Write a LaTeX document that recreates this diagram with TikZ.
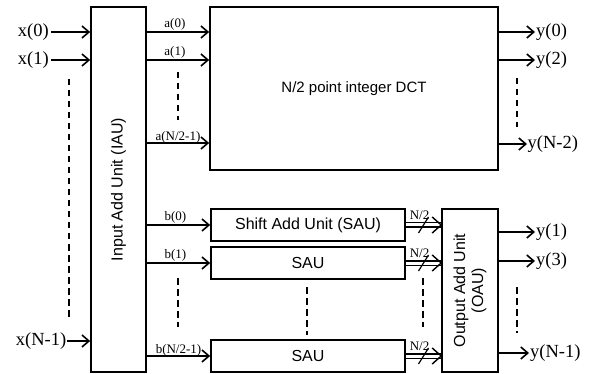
\documentclass[tikz,border=0pt]{standalone}
\usepackage{fontspec}
\setmainfont{Liberation Serif}
\setsansfont{Liberation Sans}
\usetikzlibrary{arrows.meta}
\begin{document}
\begin{tikzpicture}[x=1pt,y=-1pt,
  box/.style={draw,line width=1.6pt,inner sep=0pt},
  sans/.style={font=\sffamily\fontsize{16}{18}\selectfont,inner sep=0pt},
  arr/.style={line width=1.6pt,-{Straight Barb[length=7pt,width=12pt,line width=1.6pt]}},
  dbl/.style={double,double distance=3pt,line width=1.3pt},
  dblhead/.style={line width=1.4pt},
  big/.style={font=\fontsize{18.5}{20}\selectfont,inner sep=1pt},
  small/.style={font=\fontsize{13}{14}\selectfont,inner sep=1pt},
  dsh/.style={line width=1.5pt,dash pattern=on 6.5pt off 4.5pt},
  slash/.style={line width=1.2pt},
]
\useasboundingbox (0,0) rectangle (597,374);
% boxes
\node[box,minimum width=55pt,minimum height=365pt] (iau) at (118.5,189.5) {};
\node[sans,rotate=90] (iaut) at (iau.center) {Input Add Unit (IAU)};
\node[box,minimum width=288pt,minimum height=163pt] (dct) at (354,88.5) {};
\node[sans,font=\sffamily\fontsize{15}{17}\selectfont] (dctt) at (dct.center) {N/2 point integer DCT};
\node[box,sans,minimum width=194pt,minimum height=32pt] (s1) at (308,225) {Shift Add Unit (SAU)};
\node[box,sans,minimum width=194pt,minimum height=32pt] (s2) at (308,263) {SAU};
\node[box,sans,minimum width=194pt,minimum height=32pt] (s3) at (308,356) {SAU};
\node[box,minimum width=56pt,minimum height=163pt] (oau) at (470,290.5) {};
\node[sans,rotate=90,align=center] (oaut) at (oau.center) {Output Add Unit\\(OAU)};
% inputs
\node[big,anchor=east,inner sep=2pt] (x0) at (51,32) {x(0)};
\node[big,anchor=east,inner sep=2pt] (x1) at (51,60) {x(1)};
\node[big,anchor=east,inner sep=0.5pt] (xn) at (67,341) {x(N-1)};
\draw[arr] (x0.east) -- (x0.east -| iau.west);
\draw[arr] (x1.east) -- (x1.east -| iau.west);
\draw[arr] (xn.east) -- (xn.east -| iau.west);
% a lines
\coordinate (ra0) at (0,32);
\coordinate (ra1) at (0,60);
\coordinate (ran) at (0,143);
\draw[arr] (ra0 -| iau.east) -- (ra0 -| dct.west) node[small,pos=0.45,above] (la0) {a(0)};
\draw[arr] (ra1 -| iau.east) -- (ra1 -| dct.west) node[small,pos=0.45,above] (la1) {a(1)};
\draw[arr] (ran -| iau.east) -- (ran -| dct.west) node[small,pos=0.5,above=-2pt] (lan) {a(N/2-1)};
% b lines
\draw[arr] (s1.west -| iau.east) -- (s1.west) node[small,pos=0.45,above] (lb0) {b(0)};
\draw[arr] (s2.west -| iau.east) -- (s2.west) node[small,pos=0.45,above] (lb1) {b(1)};
\draw[arr] (s3.west -| iau.east) -- (s3.west) node[small,pos=0.5,above=-2pt] (lbn) {b(N/2-1)};
% double arrows
\coordinate (e1) at (s1.east -| oau.west);
\coordinate (e2) at (s2.east -| oau.west);
\coordinate (e3) at (s3.east -| oau.west);
\draw[dbl] (s1.east) -- (e1) coordinate[midway] (m1) node[small,midway,above=4pt,xshift=-4pt] (n1) {N/2};
\draw[dbl] (s2.east) -- (e2) coordinate[midway] (m2) node[small,midway,above=4pt,xshift=-4pt] (n2) {N/2};
\draw[dbl] (s3.east) -- (e3) coordinate[midway] (m3) node[small,midway,above=4pt,xshift=-4pt] (n3) {N/2};
\draw[dblhead] (e1) +(-9,-8) -- (e1) -- +(-9,8);
\draw[dblhead] (e2) +(-9,-8) -- (e2) -- +(-9,8);
\draw[dblhead] (e3) +(-9,-8) -- (e3) -- +(-9,8);
\draw[slash] (m1) +(-5,8) -- +(5,-8);
\draw[slash] (m2) +(-5,8) -- +(5,-8);
\draw[slash] (m3) +(-5,8) -- +(5,-8);
% outputs
\node[big,anchor=west] (y0) at (535,32) {y(0)};
\node[big,anchor=west] (y2) at (535,60) {y(2)};
\node[big,anchor=west,inner sep=0.5pt] (yn2) at (527,144) {y(N-2)};
\node[big,anchor=west] (y1) at (535,232) {y(1)};
\node[big,anchor=west] (y3) at (535,261) {y(3)};
\node[big,anchor=west,inner sep=1pt] (yn1) at (529,353) {y(N-1)};
\draw[arr] (y0.west -| dct.east) -- (y0.west);
\draw[arr] (y2.west -| dct.east) -- (y2.west);
\draw[arr] (yn2.west -| dct.east) -- (yn2.west);
\draw[arr] (y1.west -| oau.east) -- (y1.west);
\draw[arr] (y3.west -| oau.east) -- (y3.west);
\draw[arr] (yn1.west -| oau.east) -- (yn1.west);
% dashed continuation marks
\draw[dsh] (69,79) -- (69,320);
\draw[dsh] (178,72) -- (178,120);
\draw[dsh] (178,278) -- (178,327);
\draw[dsh] (307,287) -- (307,335);
\draw[dsh] (423,278) -- (423,327);
\draw[dsh] (517,78) -- (517,127);
\draw[dsh] (517,287) -- (517,333);
\end{tikzpicture}
\end{document}
